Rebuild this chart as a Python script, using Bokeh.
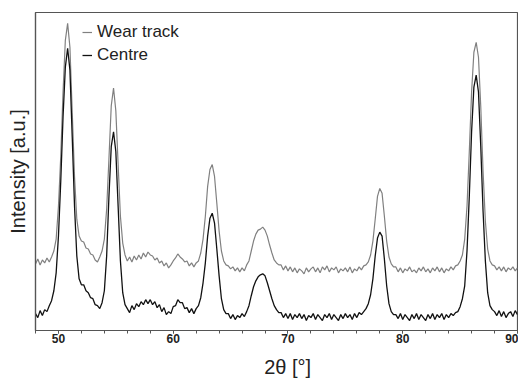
import numpy as np
from bokeh.plotting import figure
from bokeh.models import Range1d, Legend, LegendItem, SingleIntervalTicker, FixedTicker
from bokeh.embed import file_html
from bokeh.resources import INLINE

# 2-theta sampling grid (degrees)
theta_start, theta_stop, theta_step = 48.0, 90.0, 0.2
two_theta = np.round(np.arange(theta_start, theta_stop + theta_step / 2, theta_step), 1)

# Intensity (a.u.)
wear_track = [
    67, 72, 66, 71, 68, 73, 69, 74,
    80, 92, 125, 175, 240, 292, 309, 285, 220, 155, 112, 95, 90,
    89, 83, 82, 77, 76, 71, 69, 74, 80,
    92, 122, 173, 226, 244, 221, 167, 115, 88, 76,
    70, 74, 69, 75, 71, 76, 72, 78, 74, 79, 76, 75, 71, 73, 68, 70, 65, 68, 63, 66,
    70, 73, 77, 74, 72, 69, 70, 65, 68, 64, 68, 70, 78,
    92, 115, 145, 162, 167, 155, 128, 100, 80, 70, 66,
    65, 62, 64, 60, 63, 59, 63, 60, 66, 70, 80,
    90, 97, 101, 102, 104, 101, 95, 86, 78, 71, 68, 66,
    66, 61, 65, 60, 64, 59, 63, 58, 62, 60, 57, 63, 59, 62, 64, 59, 63, 58, 64, 61,
    65, 59, 63, 61, 64, 58, 62, 60, 63, 59, 64, 58, 62, 60, 64, 61, 65, 66, 69,
    76, 90, 112, 135, 143, 138, 115, 90, 74, 67, 64,
    64, 59, 63, 58, 62, 60, 64, 59, 61, 58, 63, 60, 64, 59, 62,
    58, 63, 60, 64, 59, 63, 58, 62, 60, 64, 61, 65, 66, 70, 76,
    92, 125, 180, 240, 280, 290, 275, 225, 160, 110, 82, 70, 66,
    65, 61, 64, 60, 64, 59, 63, 61, 64, 60, 63,
]
centre = [
    17, 13, 20, 15, 21, 19, 25, 30,
    40, 58, 95, 150, 215, 265, 284, 262, 195, 125, 75, 52, 46,
    46, 40, 38, 33, 32, 26, 25, 22, 28,
    40, 75, 135, 185, 200, 180, 125, 70, 38, 26,
    22, 18, 25, 21, 27, 24, 29, 26, 31, 27, 31, 26, 29, 23, 26, 19, 23, 16, 19, 17,
    24, 25, 31, 28, 28, 22, 23, 18, 22, 17, 22, 25, 33,
    48, 68, 95, 113, 118, 108, 82, 55, 32, 21, 17,
    17, 12, 16, 11, 15, 13, 17, 14, 19, 25, 35,
    44, 50, 54, 56, 57, 55, 48, 40, 32, 25, 21, 18,
    18, 13, 17, 12, 17, 11, 16, 13, 17, 12, 16, 10, 15, 13, 17, 11, 16, 13, 10, 16,
    13, 17, 11, 16, 13, 10, 16, 12, 17, 13, 16, 11, 17, 13, 18, 16, 19, 22, 27,
    36, 52, 75, 93, 99, 95, 72, 45, 27, 19, 16,
    16, 12, 17, 11, 16, 13, 10, 16, 12, 17, 11, 16, 13, 10, 16,
    12, 17, 11, 16, 13, 17, 11, 16, 13, 17, 15, 18, 19, 24, 32,
    45, 80, 135, 200, 245, 257, 240, 185, 120, 70, 38, 25, 21,
    19, 15, 20, 14, 19, 13, 17, 19, 14, 20, 16,
]
series_labels = ["Wear track", "Centre"]
x_ticks_interval = 10

assert len(wear_track) == len(two_theta) == len(centre)

FONT = "Liberation Sans"
FRAME = "#555555"
TEXT = "#222222"

p = figure(width=518, height=380, x_range=Range1d(48, 90), y_range=Range1d(0, 320),
           output_backend="svg", toolbar_location=None,
           min_border_left=35, min_border_right=1, min_border_top=12, min_border_bottom=48)
p.background_fill_color = "white"
p.border_fill_color = "white"
p.grid.visible = False
p.outline_line_color = FRAME
p.outline_line_width = 1.2

ya = p.yaxis[0]
ya.ticker = FixedTicker(ticks=[])
ya.axis_line_color = FRAME
ya.axis_line_width = 1.2
ya.major_label_text_font_size = "0px"
ya.major_label_standoff = 0
ya.major_tick_out = 0
ya.major_tick_in = 0
ya.axis_label = "Intensity [a.u.]"
ya.axis_label_standoff = 7
ya.axis_label_text_font = FONT
ya.axis_label_text_font_size = "20px"
ya.axis_label_text_font_style = "normal"
ya.axis_label_text_color = TEXT

xa = p.xaxis[0]
xa.ticker = SingleIntervalTicker(interval=x_ticks_interval, num_minor_ticks=5)
xa.axis_line_color = FRAME
xa.axis_line_width = 1.2
xa.major_tick_line_color = FRAME
xa.minor_tick_line_color = FRAME
xa.major_tick_in = 0
xa.major_tick_out = 3
xa.minor_tick_in = 0
xa.minor_tick_out = 3
xa.major_label_standoff = 0
xa.major_label_text_font = FONT
xa.major_label_text_font_style = "bold"
xa.major_label_text_font_size = "12px"
xa.major_label_text_color = TEXT
xa.axis_label = "\u00a0\u00a0\u00a0\u00a02θ [°]"
xa.axis_label_standoff = 10
xa.axis_label_text_font = FONT
xa.axis_label_text_font_size = "20px"
xa.axis_label_text_font_style = "normal"
xa.axis_label_text_color = TEXT

r_wear = p.line(two_theta, wear_track, line_color="#808080", line_width=1.2)
r_centre = p.line(two_theta, centre, line_color="#111111", line_width=1.3)

legend = Legend(items=[LegendItem(label=series_labels[0], renderers=[r_wear]),
                       LegendItem(label=series_labels[1], renderers=[r_centre])],
                location=(47, 265), padding=0, margin=0, spacing=3,
                glyph_width=10, glyph_height=20, label_height=20, label_standoff=5,
                label_text_font=FONT, label_text_font_size="17px", label_text_color=TEXT,
                background_fill_alpha=0, border_line_color=None)
p.add_layout(legend, "center")

open("out.html", "w").write(file_html(p, INLINE))
